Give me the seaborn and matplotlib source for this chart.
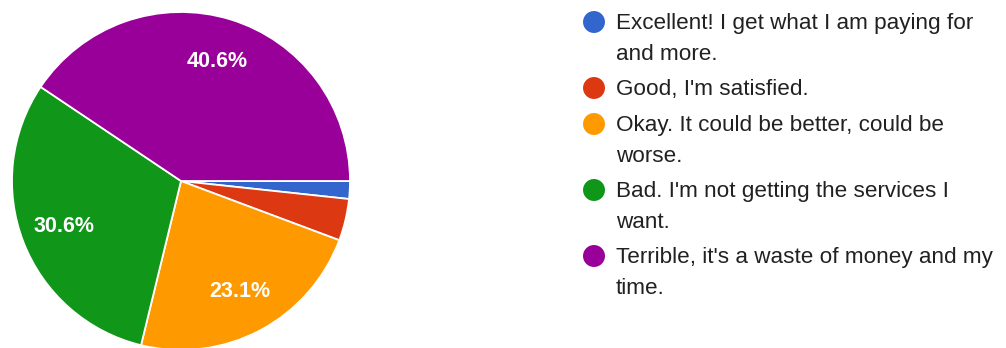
import textwrap

import matplotlib
matplotlib.use("Agg")
import matplotlib.pyplot as plt
import seaborn as sns

# Survey answers and their shares (%)
categories = [
    "Excellent! I get what I am paying for and more.",
    "Good, I'm satisfied.",
    "Okay. It could be better, could be worse.",
    "Bad. I'm not getting the services I want.",
    "Terrible, it's a waste of money and my time.",
]
shares = [1.7, 4.0, 23.1, 30.6, 40.6]
colors = ["#3366cc", "#dc3912", "#ff9900", "#109618", "#990099"]

sns.set_theme(style="white")
plt.rcParams["font.family"] = ["Liberation Sans", "DejaVu Sans"]
palette = sns.color_palette(colors)

W, H, DPI = 1006, 348, 100
fig = plt.figure(figsize=(W / DPI, H / DPI), dpi=DPI)

# Pie, laid out in pixel terms: centre (cx, cy) from top-left, radius r
cx, cy, r = 181, 181, 169
ax = fig.add_axes([(cx - r) / W, (H - cy - r) / H, 2 * r / W, 2 * r / H])
wedges, _, autotexts = ax.pie(
    shares,
    colors=palette,
    startangle=0,
    counterclock=False,
    radius=1.0,
    autopct=lambda p: f"{p:.1f}%" if p >= 5 else "",
    pctdistance=0.74,
    wedgeprops=dict(edgecolor="white", linewidth=1.3),
    textprops=dict(color="white", fontsize=15.5, fontweight="bold"),
)
ax.set_xlim(-1, 1)
ax.set_ylim(-1, 1)
ax.set_aspect("equal")
ax.axis("off")

# Legend drawn on a pixel-coordinate overlay
lax = fig.add_axes([0, 0, 1, 1])
lax.set_xlim(0, W)
lax.set_ylim(H, 0)
lax.axis("off")

marker_x, text_x = 594, 616
y = 22          # centre of the first text line
line_h = 30     # spacing of wrapped lines
entry_gap = 6   # extra space between entries
for label, col in zip(categories, palette):
    lines = textwrap.wrap(label, width=38)
    lax.scatter([marker_x], [y], s=250, color=col, edgecolor="none")
    for i, line in enumerate(lines):
        lax.text(text_x, y + i * line_h + 7.5, line, fontsize=16.2,
                 color="#212121", va="baseline", ha="left")
    y += len(lines) * line_h + entry_gap

fig.savefig("out.png", dpi=DPI)
